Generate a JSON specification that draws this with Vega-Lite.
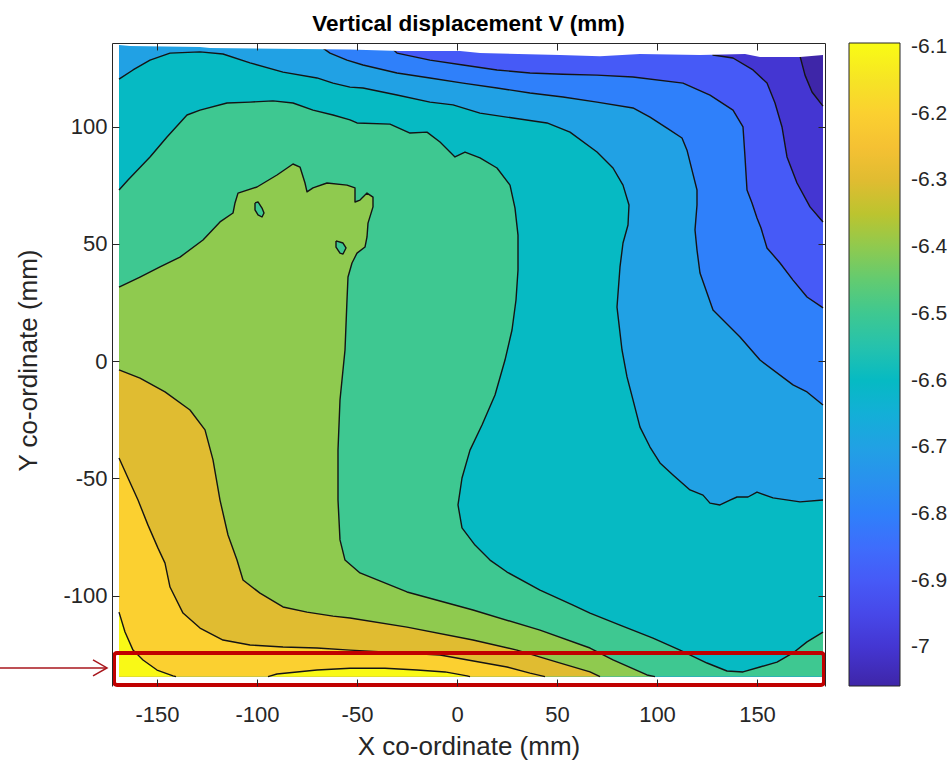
{
"$schema":"https://vega.github.io/schema/vega-lite/v6.json",
"width":713,"height":643,"autosize":"none",
"padding":{"left":112,"top":43,"right":127,"bottom":74},
"background":"white",
"title":{"text":"Vertical displacement V (mm)","font":"Liberation Sans","fontSize":22.5,"fontWeight":"bold","color":"#000000","anchor":"middle","baseline":"bottom","offset":10,"dy":26},
"config":{"font":"Liberation Sans","view":{"stroke":null},"locale":{"number":{"decimal":".","thousands":",","grouping":[3],"currency":["$",""],"minus":"-"}}},
"datasets":{
"P":[
{"g":0,"lv":-7.058,"x":-169,"y":135,"c":0},{"g":0,"lv":-7.058,"x":183,"y":135,"c":0},{"g":0,"lv":-7.058,"x":183,"y":-134.5,"c":0},{"g":0,"lv":-7.058,"x":-169,"y":-134.5,"c":0},
{"g":1,"lv":-7.0,"x":171.5,"y":135,"c":1},{"g":1,"lv":-7.0,"x":171.5,"y":130.1,"c":1},{"g":1,"lv":-7.0,"x":174,"y":122,"c":1},{"g":1,"lv":-7.0,"x":177.5,"y":114.8,"c":1},{"g":1,"lv":-7.0,"x":182.5,"y":109.3,"c":1},{"g":1,"lv":-7.0,"x":183,"y":108.8,"c":1},{"g":1,"lv":-7.0,"x":183,"y":-134.5,"c":0},{"g":1,"lv":-7.0,"x":-169,"y":-134.5,"c":0},{"g":1,"lv":-7.0,"x":-169,"y":135,"c":0},
{"g":2,"lv":-6.9,"x":128,"y":135,"c":1},{"g":2,"lv":-6.9,"x":128,"y":130.6,"c":1},{"g":2,"lv":-6.9,"x":138,"y":129.3,"c":1},{"g":2,"lv":-6.9,"x":148,"y":124.2,"c":1},{"g":2,"lv":-6.9,"x":155,"y":118.6,"c":1},{"g":2,"lv":-6.9,"x":159,"y":110.1,"c":1},{"g":2,"lv":-6.9,"x":162.5,"y":99.9,"c":1},{"g":2,"lv":-6.9,"x":165,"y":87.1,"c":1},{"g":2,"lv":-6.9,"x":170,"y":76,"c":1},{"g":2,"lv":-6.9,"x":176.5,"y":65.8,"c":1},{"g":2,"lv":-6.9,"x":183,"y":59.4,"c":1},{"g":2,"lv":-6.9,"x":183,"y":-134.5,"c":0},{"g":2,"lv":-6.9,"x":-169,"y":-134.5,"c":0},{"g":2,"lv":-6.9,"x":-169,"y":135,"c":0},
{"g":3,"lv":-6.8,"x":-34.5,"y":135,"c":1},{"g":3,"lv":-6.8,"x":-30,"y":131.4,"c":1},{"g":3,"lv":-6.8,"x":-13.5,"y":128.4,"c":1},{"g":3,"lv":-6.8,"x":3,"y":126.3,"c":1},{"g":3,"lv":-6.8,"x":20,"y":124.2,"c":1},{"g":3,"lv":-6.8,"x":36.5,"y":122.9,"c":1},{"g":3,"lv":-6.8,"x":53,"y":122.4,"c":1},{"g":3,"lv":-6.8,"x":70,"y":122,"c":1},{"g":3,"lv":-6.8,"x":88,"y":121.2,"c":1},{"g":3,"lv":-6.8,"x":113,"y":118.6,"c":1},{"g":3,"lv":-6.8,"x":126.5,"y":113.5,"c":1},{"g":3,"lv":-6.8,"x":138,"y":107.1,"c":1},{"g":3,"lv":-6.8,"x":143,"y":99.9,"c":1},{"g":3,"lv":-6.8,"x":144,"y":87.1,"c":1},{"g":3,"lv":-6.8,"x":145,"y":73,"c":1},{"g":3,"lv":-6.8,"x":147.5,"y":67.5,"c":1},{"g":3,"lv":-6.8,"x":150,"y":61.1,"c":1},{"g":3,"lv":-6.8,"x":152,"y":56.8,"c":1},{"g":3,"lv":-6.8,"x":155,"y":48.3,"c":1},{"g":3,"lv":-6.8,"x":161.5,"y":41.9,"c":1},{"g":3,"lv":-6.8,"x":168,"y":34.6,"c":1},{"g":3,"lv":-6.8,"x":175,"y":27.4,"c":1},{"g":3,"lv":-6.8,"x":182.5,"y":23.1,"c":1},{"g":3,"lv":-6.8,"x":183,"y":22.7,"c":1},{"g":3,"lv":-6.8,"x":183,"y":-134.5,"c":0},{"g":3,"lv":-6.8,"x":-169,"y":-134.5,"c":0},{"g":3,"lv":-6.8,"x":-169,"y":135,"c":0},
{"g":4,"lv":-6.7,"x":-69.5,"y":135,"c":1},{"g":4,"lv":-6.7,"x":-63.5,"y":131.4,"c":1},{"g":4,"lv":-6.7,"x":-55,"y":128.4,"c":1},{"g":4,"lv":-6.7,"x":-47,"y":126.3,"c":1},{"g":4,"lv":-6.7,"x":-30,"y":122.9,"c":1},{"g":4,"lv":-6.7,"x":-13.5,"y":120.8,"c":1},{"g":4,"lv":-6.7,"x":3,"y":118.6,"c":1},{"g":4,"lv":-6.7,"x":20,"y":116.5,"c":1},{"g":4,"lv":-6.7,"x":36.5,"y":114.4,"c":1},{"g":4,"lv":-6.7,"x":53,"y":112.7,"c":1},{"g":4,"lv":-6.7,"x":70,"y":110.5,"c":1},{"g":4,"lv":-6.7,"x":88,"y":108,"c":1},{"g":4,"lv":-6.7,"x":96.5,"y":104.1,"c":1},{"g":4,"lv":-6.7,"x":105,"y":99.4,"c":1},{"g":4,"lv":-6.7,"x":112.5,"y":95.2,"c":1},{"g":4,"lv":-6.7,"x":115,"y":90,"c":1},{"g":4,"lv":-6.7,"x":117.5,"y":81.5,"c":1},{"g":4,"lv":-6.7,"x":120,"y":73,"c":1},{"g":4,"lv":-6.7,"x":120,"y":66.6,"c":1},{"g":4,"lv":-6.7,"x":119,"y":56,"c":1},{"g":4,"lv":-6.7,"x":120,"y":47.4,"c":1},{"g":4,"lv":-6.7,"x":121.5,"y":37.6,"c":1},{"g":4,"lv":-6.7,"x":128,"y":21.8,"c":1},{"g":4,"lv":-6.7,"x":141.5,"y":10.3,"c":1},{"g":4,"lv":-6.7,"x":151.5,"y":0.5,"c":1},{"g":4,"lv":-6.7,"x":168,"y":-10.1,"c":1},{"g":4,"lv":-6.7,"x":175,"y":-13.1,"c":1},{"g":4,"lv":-6.7,"x":183,"y":-18.7,"c":1},{"g":4,"lv":-6.7,"x":183,"y":-134.5,"c":0},{"g":4,"lv":-6.7,"x":-169,"y":-134.5,"c":0},{"g":4,"lv":-6.7,"x":-169,"y":135,"c":0},
{"g":5,"lv":-6.6,"x":-169,"y":120.3,"c":1},{"g":5,"lv":-6.6,"x":-162,"y":124.2,"c":1},{"g":5,"lv":-6.6,"x":-153.5,"y":128.4,"c":1},{"g":5,"lv":-6.6,"x":-143.5,"y":131.4,"c":1},{"g":5,"lv":-6.6,"x":-128.5,"y":131.9,"c":1},{"g":5,"lv":-6.6,"x":-117,"y":131,"c":1},{"g":5,"lv":-6.6,"x":-103.5,"y":127.2,"c":1},{"g":5,"lv":-6.6,"x":-87,"y":123.3,"c":1},{"g":5,"lv":-6.6,"x":-70,"y":120.8,"c":1},{"g":5,"lv":-6.6,"x":-62,"y":118.6,"c":1},{"g":5,"lv":-6.6,"x":-53.5,"y":116.9,"c":1},{"g":5,"lv":-6.6,"x":-47,"y":116.5,"c":1},{"g":5,"lv":-6.6,"x":-30,"y":113.5,"c":1},{"g":5,"lv":-6.6,"x":-13.5,"y":110.5,"c":1},{"g":5,"lv":-6.6,"x":-2,"y":109.3,"c":1},{"g":5,"lv":-6.6,"x":11.5,"y":105.8,"c":1},{"g":5,"lv":-6.6,"x":28,"y":103.7,"c":1},{"g":5,"lv":-6.6,"x":45,"y":101.6,"c":1},{"g":5,"lv":-6.6,"x":56.5,"y":97.7,"c":1},{"g":5,"lv":-6.6,"x":70,"y":89.2,"c":1},{"g":5,"lv":-6.6,"x":78,"y":82.4,"c":1},{"g":5,"lv":-6.6,"x":83,"y":75.1,"c":1},{"g":5,"lv":-6.6,"x":86,"y":66.6,"c":1},{"g":5,"lv":-6.6,"x":85.5,"y":58.1,"c":1},{"g":5,"lv":-6.6,"x":83,"y":50.4,"c":1},{"g":5,"lv":-6.6,"x":81.5,"y":40.2,"c":1},{"g":5,"lv":-6.6,"x":80,"y":23.1,"c":1},{"g":5,"lv":-6.6,"x":82.5,"y":4.8,"c":1},{"g":5,"lv":-6.6,"x":85,"y":-6.7,"c":1},{"g":5,"lv":-6.6,"x":88,"y":-16.5,"c":1},{"g":5,"lv":-6.6,"x":91.5,"y":-28.1,"c":1},{"g":5,"lv":-6.6,"x":96.5,"y":-36.6,"c":1},{"g":5,"lv":-6.6,"x":101.5,"y":-43.4,"c":1},{"g":5,"lv":-6.6,"x":108,"y":-48.5,"c":1},{"g":5,"lv":-6.6,"x":116.5,"y":-54.9,"c":1},{"g":5,"lv":-6.6,"x":123,"y":-57.1,"c":1},{"g":5,"lv":-6.6,"x":126.5,"y":-60.5,"c":1},{"g":5,"lv":-6.6,"x":131.5,"y":-61.3,"c":1},{"g":5,"lv":-6.6,"x":136.5,"y":-59.2,"c":1},{"g":5,"lv":-6.6,"x":140,"y":-57.9,"c":1},{"g":5,"lv":-6.6,"x":145.5,"y":-57.9,"c":1},{"g":5,"lv":-6.6,"x":150,"y":-55.8,"c":1},{"g":5,"lv":-6.6,"x":158,"y":-58.3,"c":1},{"g":5,"lv":-6.6,"x":171.5,"y":-60,"c":1},{"g":5,"lv":-6.6,"x":183,"y":-59.2,"c":1},{"g":5,"lv":-6.6,"x":183,"y":-134.5,"c":0},{"g":5,"lv":-6.6,"x":-169,"y":-134.5,"c":0},
{"g":6,"lv":-6.5,"x":-169,"y":73,"c":1},{"g":6,"lv":-6.5,"x":-164.5,"y":77.3,"c":1},{"g":6,"lv":-6.5,"x":-153.5,"y":87.1,"c":1},{"g":6,"lv":-6.5,"x":-145,"y":95.6,"c":1},{"g":6,"lv":-6.5,"x":-135,"y":105,"c":1},{"g":6,"lv":-6.5,"x":-128.5,"y":107.1,"c":1},{"g":6,"lv":-6.5,"x":-115,"y":110.1,"c":1},{"g":6,"lv":-6.5,"x":-103.5,"y":110.5,"c":1},{"g":6,"lv":-6.5,"x":-92,"y":111,"c":1},{"g":6,"lv":-6.5,"x":-82,"y":110.1,"c":1},{"g":6,"lv":-6.5,"x":-72,"y":107.1,"c":1},{"g":6,"lv":-6.5,"x":-62,"y":105,"c":1},{"g":6,"lv":-6.5,"x":-53.5,"y":102.9,"c":1},{"g":6,"lv":-6.5,"x":-50,"y":101.6,"c":1},{"g":6,"lv":-6.5,"x":-33.5,"y":101.1,"c":1},{"g":6,"lv":-6.5,"x":-23.5,"y":97.3,"c":1},{"g":6,"lv":-6.5,"x":-15,"y":97.7,"c":1},{"g":6,"lv":-6.5,"x":-8.5,"y":93.5,"c":1},{"g":6,"lv":-6.5,"x":-1,"y":87.1,"c":1},{"g":6,"lv":-6.5,"x":4,"y":89.2,"c":1},{"g":6,"lv":-6.5,"x":11.5,"y":86.7,"c":1},{"g":6,"lv":-6.5,"x":20,"y":82.4,"c":1},{"g":6,"lv":-6.5,"x":26.5,"y":75.1,"c":1},{"g":6,"lv":-6.5,"x":29,"y":65.3,"c":1},{"g":6,"lv":-6.5,"x":30.5,"y":53.8,"c":1},{"g":6,"lv":-6.5,"x":30.5,"y":38.9,"c":1},{"g":6,"lv":-6.5,"x":29.5,"y":26.1,"c":1},{"g":6,"lv":-6.5,"x":27.5,"y":13.3,"c":1},{"g":6,"lv":-6.5,"x":24,"y":0.5,"c":1},{"g":6,"lv":-6.5,"x":19,"y":-14.4,"c":1},{"g":6,"lv":-6.5,"x":12.5,"y":-27.2,"c":1},{"g":6,"lv":-6.5,"x":6.5,"y":-37.9,"c":1},{"g":6,"lv":-6.5,"x":2.5,"y":-49.8,"c":1},{"g":6,"lv":-6.5,"x":0.5,"y":-61.3,"c":1},{"g":6,"lv":-6.5,"x":2.5,"y":-71.1,"c":1},{"g":6,"lv":-6.5,"x":9,"y":-78.4,"c":1},{"g":6,"lv":-6.5,"x":16.5,"y":-84.8,"c":1},{"g":6,"lv":-6.5,"x":25,"y":-89.9,"c":1},{"g":6,"lv":-6.5,"x":41.5,"y":-97.6,"c":1},{"g":6,"lv":-6.5,"x":58,"y":-104,"c":1},{"g":6,"lv":-6.5,"x":66.5,"y":-107.4,"c":1},{"g":6,"lv":-6.5,"x":81.5,"y":-112.5,"c":1},{"g":6,"lv":-6.5,"x":98,"y":-118.1,"c":1},{"g":6,"lv":-6.5,"x":111.5,"y":-123.2,"c":1},{"g":6,"lv":-6.5,"x":125,"y":-128.7,"c":1},{"g":6,"lv":-6.5,"x":135,"y":-132.1,"c":1},{"g":6,"lv":-6.5,"x":143,"y":-132.5,"c":1},{"g":6,"lv":-6.5,"x":151.5,"y":-130.4,"c":1},{"g":6,"lv":-6.5,"x":160,"y":-128.3,"c":1},{"g":6,"lv":-6.5,"x":168,"y":-124.4,"c":1},{"g":6,"lv":-6.5,"x":175,"y":-119.7,"c":1},{"g":6,"lv":-6.5,"x":183,"y":-115.5,"c":1},{"g":6,"lv":-6.5,"x":183,"y":-134.5,"c":0},{"g":6,"lv":-6.5,"x":-169,"y":-134.5,"c":0},
{"g":7,"lv":-6.4,"x":-169,"y":31.6,"c":1},{"g":7,"lv":-6.4,"x":-158.5,"y":35.9,"c":1},{"g":7,"lv":-6.4,"x":-148.5,"y":40.2,"c":1},{"g":7,"lv":-6.4,"x":-138.5,"y":44.4,"c":1},{"g":7,"lv":-6.4,"x":-127,"y":51.7,"c":1},{"g":7,"lv":-6.4,"x":-118.5,"y":59.4,"c":1},{"g":7,"lv":-6.4,"x":-112,"y":63.2,"c":1},{"g":7,"lv":-6.4,"x":-111,"y":67.5,"c":1},{"g":7,"lv":-6.4,"x":-109.5,"y":71.7,"c":1},{"g":7,"lv":-6.4,"x":-100,"y":74.3,"c":1},{"g":7,"lv":-6.4,"x":-90,"y":79.4,"c":1},{"g":7,"lv":-6.4,"x":-82,"y":84.1,"c":1},{"g":7,"lv":-6.4,"x":-78.5,"y":82.8,"c":1},{"g":7,"lv":-6.4,"x":-76,"y":76,"c":1},{"g":7,"lv":-6.4,"x":-75,"y":72.2,"c":1},{"g":7,"lv":-6.4,"x":-72,"y":73.9,"c":1},{"g":7,"lv":-6.4,"x":-65,"y":76,"c":1},{"g":7,"lv":-6.4,"x":-55,"y":75.1,"c":1},{"g":7,"lv":-6.4,"x":-51,"y":73.9,"c":1},{"g":7,"lv":-6.4,"x":-51,"y":67.9,"c":1},{"g":7,"lv":-6.4,"x":-48.5,"y":68.7,"c":1},{"g":7,"lv":-6.4,"x":-45,"y":71.7,"c":1},{"g":7,"lv":-6.4,"x":-42,"y":70,"c":1},{"g":7,"lv":-6.4,"x":-42,"y":65.8,"c":1},{"g":7,"lv":-6.4,"x":-44.5,"y":58.9,"c":1},{"g":7,"lv":-6.4,"x":-45,"y":53,"c":1},{"g":7,"lv":-6.4,"x":-46,"y":48.7,"c":1},{"g":7,"lv":-6.4,"x":-50,"y":46.1,"c":1},{"g":7,"lv":-6.4,"x":-52.5,"y":41.9,"c":1},{"g":7,"lv":-6.4,"x":-54.5,"y":35.9,"c":1},{"g":7,"lv":-6.4,"x":-55,"y":26.1,"c":1},{"g":7,"lv":-6.4,"x":-56,"y":4.8,"c":1},{"g":7,"lv":-6.4,"x":-58.5,"y":-16.5,"c":1},{"g":7,"lv":-6.4,"x":-59.5,"y":-37.9,"c":1},{"g":7,"lv":-6.4,"x":-59.5,"y":-59.2,"c":1},{"g":7,"lv":-6.4,"x":-58.5,"y":-76.2,"c":1},{"g":7,"lv":-6.4,"x":-56,"y":-84.8,"c":1},{"g":7,"lv":-6.4,"x":-48.5,"y":-90.3,"c":1},{"g":7,"lv":-6.4,"x":-25,"y":-98.4,"c":1},{"g":7,"lv":-6.4,"x":8,"y":-106.1,"c":1},{"g":7,"lv":-6.4,"x":41.5,"y":-114.7,"c":1},{"g":7,"lv":-6.4,"x":66.5,"y":-122.3,"c":1},{"g":7,"lv":-6.4,"x":78,"y":-127.4,"c":1},{"g":7,"lv":-6.4,"x":95,"y":-133.8,"c":1},{"g":7,"lv":-6.4,"x":99,"y":-134.5,"c":1},{"g":7,"lv":-6.4,"x":-169,"y":-134.5,"c":0},
{"g":8,"lv":-6.5,"x":-101,"y":67.5,"c":1},{"g":8,"lv":-6.5,"x":-99.5,"y":67.9,"c":1},{"g":8,"lv":-6.5,"x":-97.5,"y":65.3,"c":1},{"g":8,"lv":-6.5,"x":-96.5,"y":63.2,"c":1},{"g":8,"lv":-6.5,"x":-97.5,"y":61.5,"c":1},{"g":8,"lv":-6.5,"x":-99.5,"y":62.4,"c":1},{"g":8,"lv":-6.5,"x":-101,"y":64.5,"c":1},{"g":8,"lv":-6.5,"x":-101,"y":67.5,"c":1},
{"g":9,"lv":-6.5,"x":-60.5,"y":51.3,"c":1},{"g":9,"lv":-6.5,"x":-57,"y":50.4,"c":1},{"g":9,"lv":-6.5,"x":-55.5,"y":48.3,"c":1},{"g":9,"lv":-6.5,"x":-57,"y":45.7,"c":1},{"g":9,"lv":-6.5,"x":-58.5,"y":46.1,"c":1},{"g":9,"lv":-6.5,"x":-60.5,"y":48.7,"c":1},{"g":9,"lv":-6.5,"x":-60.5,"y":51.3,"c":1},
{"g":10,"lv":-6.3,"x":-169,"y":-3.7,"c":1},{"g":10,"lv":-6.3,"x":-158.5,"y":-7.2,"c":1},{"g":10,"lv":-6.3,"x":-146,"y":-13.1,"c":1},{"g":10,"lv":-6.3,"x":-133.5,"y":-20.8,"c":1},{"g":10,"lv":-6.3,"x":-126,"y":-29.3,"c":1},{"g":10,"lv":-6.3,"x":-122,"y":-42.1,"c":1},{"g":10,"lv":-6.3,"x":-118.5,"y":-59.2,"c":1},{"g":10,"lv":-6.3,"x":-114.5,"y":-74.1,"c":1},{"g":10,"lv":-6.3,"x":-110,"y":-84.8,"c":1},{"g":10,"lv":-6.3,"x":-107,"y":-93.3,"c":1},{"g":10,"lv":-6.3,"x":-98.5,"y":-98.9,"c":1},{"g":10,"lv":-6.3,"x":-87,"y":-104.8,"c":1},{"g":10,"lv":-6.3,"x":-75,"y":-107,"c":1},{"g":10,"lv":-6.3,"x":-62,"y":-108.7,"c":1},{"g":10,"lv":-6.3,"x":-53.5,"y":-109.5,"c":1},{"g":10,"lv":-6.3,"x":-25,"y":-113.4,"c":1},{"g":10,"lv":-6.3,"x":8,"y":-118.9,"c":1},{"g":10,"lv":-6.3,"x":30,"y":-123.2,"c":1},{"g":10,"lv":-6.3,"x":50,"y":-128.3,"c":1},{"g":10,"lv":-6.3,"x":66.5,"y":-132.5,"c":1},{"g":10,"lv":-6.3,"x":71.5,"y":-134.5,"c":1},{"g":10,"lv":-6.3,"x":-169,"y":-134.5,"c":0},
{"g":11,"lv":-6.2,"x":-169,"y":-41.3,"c":1},{"g":11,"lv":-6.2,"x":-164.5,"y":-49.8,"c":1},{"g":11,"lv":-6.2,"x":-159.5,"y":-59.2,"c":1},{"g":11,"lv":-6.2,"x":-154.5,"y":-69.9,"c":1},{"g":11,"lv":-6.2,"x":-149.5,"y":-79.7,"c":1},{"g":11,"lv":-6.2,"x":-146,"y":-86.1,"c":1},{"g":11,"lv":-6.2,"x":-143.5,"y":-96.3,"c":1},{"g":11,"lv":-6.2,"x":-137,"y":-107.4,"c":1},{"g":11,"lv":-6.2,"x":-128.5,"y":-113.8,"c":1},{"g":11,"lv":-6.2,"x":-117,"y":-118.9,"c":1},{"g":11,"lv":-6.2,"x":-103.5,"y":-121,"c":1},{"g":11,"lv":-6.2,"x":-87,"y":-121.9,"c":1},{"g":11,"lv":-6.2,"x":-70,"y":-122.3,"c":1},{"g":11,"lv":-6.2,"x":-53.5,"y":-123.2,"c":1},{"g":11,"lv":-6.2,"x":-8.5,"y":-125.3,"c":1},{"g":11,"lv":-6.2,"x":25,"y":-130.4,"c":1},{"g":11,"lv":-6.2,"x":36.5,"y":-133,"c":1},{"g":11,"lv":-6.2,"x":44,"y":-134.5,"c":1},{"g":11,"lv":-6.2,"x":-169,"y":-134.5,"c":0},
{"g":12,"lv":-6.1,"x":-169,"y":-107,"c":1},{"g":12,"lv":-6.1,"x":-166,"y":-115.5,"c":1},{"g":12,"lv":-6.1,"x":-162,"y":-123.2,"c":1},{"g":12,"lv":-6.1,"x":-157,"y":-127.4,"c":1},{"g":12,"lv":-6.1,"x":-150,"y":-131.7,"c":1},{"g":12,"lv":-6.1,"x":-142,"y":-134.2,"c":1},{"g":12,"lv":-6.1,"x":-140.5,"y":-134.5,"c":1},{"g":12,"lv":-6.1,"x":-169,"y":-134.5,"c":0},
{"g":13,"lv":-6.1,"x":-94.5,"y":-134.5,"c":1},{"g":13,"lv":-6.1,"x":-90,"y":-133.4,"c":1},{"g":13,"lv":-6.1,"x":-70,"y":-131.7,"c":1},{"g":13,"lv":-6.1,"x":-53.5,"y":-130.9,"c":1},{"g":13,"lv":-6.1,"x":-36,"y":-130.9,"c":1},{"g":13,"lv":-6.1,"x":-20,"y":-131.7,"c":1},{"g":13,"lv":-6.1,"x":-6,"y":-132.5,"c":1},{"g":13,"lv":-6.1,"x":5,"y":-134.2,"c":1},{"g":13,"lv":-6.1,"x":6.5,"y":-134.5,"c":1}
],
"M":[
{"x":-172.5,"y":135.7},{"x":184,"y":135.7},{"x":184,"y":130.6},{"x":183,"y":130.6},{"x":171.5,"y":129.7},{"x":151.5,"y":129.7},{"x":144,"y":131},{"x":121.5,"y":130.6},{"x":91.5,"y":131},{"x":71.5,"y":130.1},{"x":51.5,"y":130.6},{"x":11.5,"y":131.4},{"x":1.5,"y":132.3},{"x":-28.5,"y":132.3},{"x":-53.5,"y":132.9},{"x":-78.5,"y":133.1},{"x":-123.5,"y":133.6},{"x":-128.5,"y":134},{"x":-163.5,"y":134.4},{"x":-169,"y":134.9},{"x":-172.5,"y":134.9}
],
"R":[{"x":-171.5,"y":-124.4,"x2":183.5,"y2":-138.1}],
"A":[
{"g":1,"x":-228.5,"y":-130.8},{"g":1,"x":-175,"y":-130.8},
{"g":2,"x":-182,"y":-127.4},{"g":2,"x":-175,"y":-130.8},{"g":2,"x":-182,"y":-134.2}
]
},
"resolve":{"axis":{"x":"independent","y":"independent"}},
"encoding":{
"x":{"field":"x","type":"quantitative","scale":{"domain":[-172.5,184],"nice":false,"zero":false},"axis":null},
"y":{"field":"y","type":"quantitative","scale":{"domain":[-138.5,135.7],"nice":false,"zero":false},"axis":null},
"order":{"value":null},
"fill":{"field":"lv","type":"quantitative",
 "scale":{"type":"linear","interpolate":"rgb","domain":[-7.058,-6.9937,-6.9295,-6.8652,-6.8009,-6.7367,-6.6724,-6.6081,-6.5439,-6.4796,-6.4153,-6.3511,-6.2868,-6.2225,-6.1583,-6.094],
 "range":["#3e26a8","#4538d7","#484ff2","#4367fd","#2f80fa","#2796eb","#1caadf","#01b9c7","#29c3aa","#48cb86","#81cc59","#bbc42f","#eaba31","#fec735","#f5e128","#f9fb14"]},
 "legend":{"orient":"none","legendX":737,"legendY":0,"direction":"vertical","title":null,"padding":0,"gradientLength":643,"gradientThickness":51,"gradientStrokeColor":"#262626","gradientStrokeWidth":1,"values":[-7,-6.9,-6.8,-6.7,-6.6,-6.5,-6.4,-6.3,-6.2,-6.1],"format":".1~f","labelFont":"Liberation Sans","labelFontSize":21,"labelColor":"#262626","labelOffset":11,"labelOverlap":false}}
},
"layer":[
{"data":{"name":"P"},"transform":[{"filter":"datum.g==0"}],"mark":{"type":"line","stroke":null},
 "encoding":{
 "x":{"field":"x","type":"quantitative","scale":{"domain":[-172.5,184],"nice":false,"zero":false},"axis":{"orient":"bottom","values":[-150,-100,-50,0,50,100,150],"domain":false,"grid":false,"ticks":true,"tickSize":-7,"tickColor":"#262626","labelPadding":25,"labelFont":"Liberation Sans","labelFontSize":22,"labelColor":"#262626","labelFlush":false,"title":"X co-ordinate (mm)","titleFont":"Liberation Sans","titleFontSize":26,"titleFontWeight":"normal","titleColor":"#262626","titleX":356.5,"titleY":60,"titleBaseline":"middle","titleAlign":"center","zindex":1}},
 "y":{"field":"y","type":"quantitative","scale":{"domain":[-138.5,135.7],"nice":false,"zero":false},"axis":{"orient":"left","values":[-100,-50,0,50,100],"domain":true,"domainColor":"#262626","grid":false,"ticks":true,"tickSize":-7,"tickColor":"#262626","labelPadding":12,"labelFont":"Liberation Sans","labelFontSize":22,"labelColor":"#262626","labelFlush":false,"title":"Y co-ordinate (mm)","titleFont":"Liberation Sans","titleFontSize":26,"titleFontWeight":"normal","titleColor":"#262626","titleX":-84,"titleY":317,"titleAngle":-90,"titleBaseline":"middle","titleAlign":"center","zindex":1}}
 }},
{"data":{"name":"P"},"transform":[{"filter":"datum.g==1"}],"mark":{"type":"line","stroke":null},"encoding":{}},
{"data":{"name":"P"},"transform":[{"filter":"datum.g==2"}],"mark":{"type":"line","stroke":null},"encoding":{}},
{"data":{"name":"P"},"transform":[{"filter":"datum.g==3"}],"mark":{"type":"line","stroke":null},"encoding":{}},
{"data":{"name":"P"},"transform":[{"filter":"datum.g==4"}],"mark":{"type":"line","stroke":null},"encoding":{}},
{"data":{"name":"P"},"transform":[{"filter":"datum.g==5"}],"mark":{"type":"line","stroke":null},"encoding":{}},
{"data":{"name":"P"},"transform":[{"filter":"datum.g==6"}],"mark":{"type":"line","stroke":null},"encoding":{}},
{"data":{"name":"P"},"transform":[{"filter":"datum.g==7"}],"mark":{"type":"line","stroke":null},"encoding":{}},
{"data":{"name":"P"},"transform":[{"filter":"datum.g==8"}],"mark":{"type":"line","stroke":null},"encoding":{}},
{"data":{"name":"P"},"transform":[{"filter":"datum.g==9"}],"mark":{"type":"line","stroke":null},"encoding":{}},
{"data":{"name":"P"},"transform":[{"filter":"datum.g==10"}],"mark":{"type":"line","stroke":null},"encoding":{}},
{"data":{"name":"P"},"transform":[{"filter":"datum.g==11"}],"mark":{"type":"line","stroke":null},"encoding":{}},
{"data":{"name":"P"},"transform":[{"filter":"datum.g==12"}],"mark":{"type":"line","stroke":null},"encoding":{}},
{"data":{"name":"P"},"transform":[{"filter":"datum.g==13"}],"mark":{"type":"line","stroke":null},"encoding":{}},
{"data":{"name":"P"},"transform":[{"filter":"datum.c==1"}],"mark":{"type":"line","stroke":"#141414","strokeWidth":1.4,"strokeJoin":"round"},
 "encoding":{"detail":{"field":"g","type":"nominal"},"fill":{"value":null}}},
{"data":{"name":"M"},"mark":{"type":"line","stroke":null},"encoding":{"fill":{"value":"white"}}},
{"data":{"name":"R"},"mark":{"type":"rect","stroke":"#c00000","strokeWidth":4,"cornerRadius":3},
 "encoding":{"x2":{"field":"x2"},"y2":{"field":"y2"},"fill":{"value":null}}},
{"data":{"name":"A"},"mark":{"type":"line","stroke":"#a8161c","strokeWidth":1.5},
 "encoding":{"detail":{"field":"g","type":"nominal"},"fill":{"value":null},
 "x":{"field":"x","type":"quantitative","scale":{"domain":[-172.5,184],"nice":false,"zero":false},"axis":{"orient":"top","values":[-150,-100,-50,0,50,100,150],"labels":false,"title":null,"domain":true,"domainColor":"#262626","grid":false,"tickSize":-7,"tickColor":"#262626","zindex":1}},
 "y":{"field":"y","type":"quantitative","scale":{"domain":[-138.5,135.7],"nice":false,"zero":false},"axis":{"orient":"right","values":[-100,-50,0,50,100],"labels":false,"title":null,"domain":true,"domainColor":"#262626","grid":false,"tickSize":-7,"tickColor":"#262626","zindex":1}}}}
]
}
